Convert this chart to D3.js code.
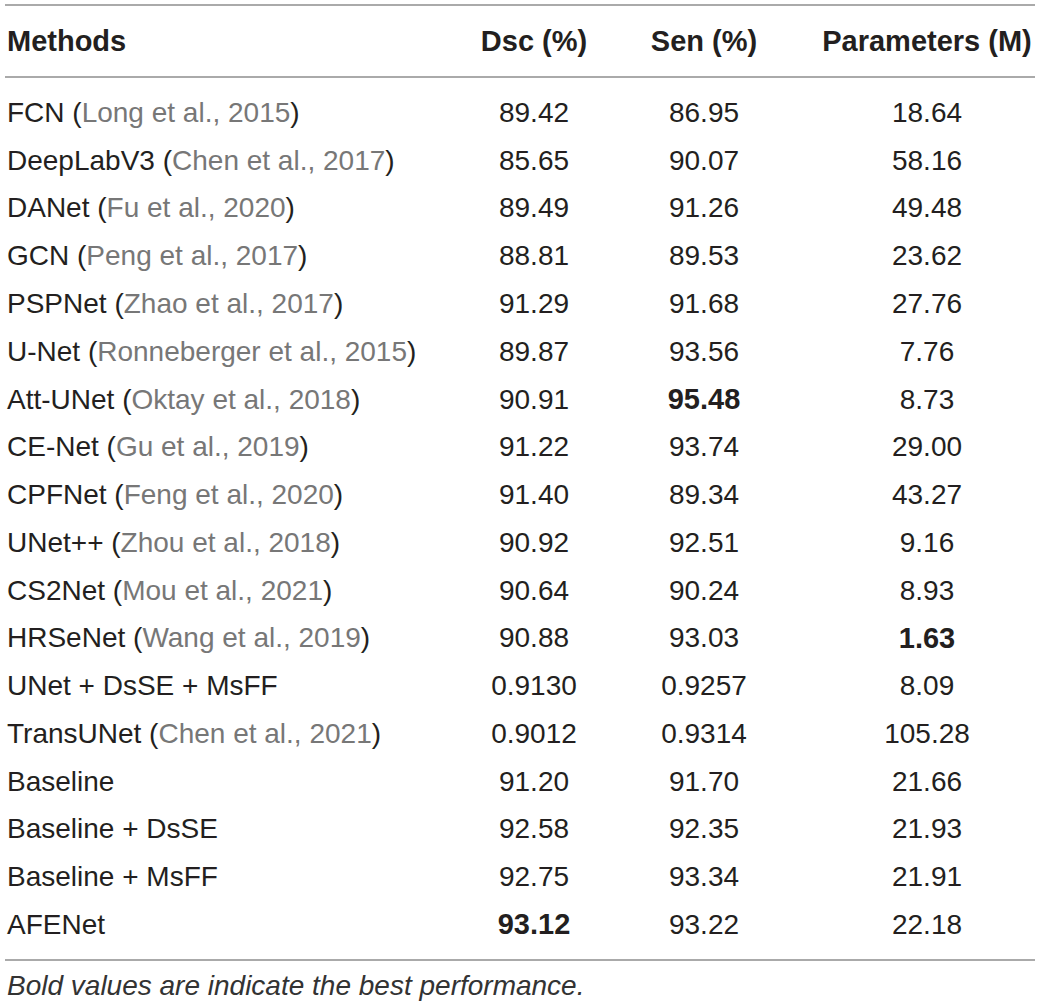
<!DOCTYPE html>
<html>
<head>
<meta charset="utf-8">
<script src="https://cdn.jsdelivr.net/npm/d3@7"></script>
<style>
  html, body { margin: 0; padding: 0; background: #fff; }
  svg { display: block; font-family: "Liberation Sans", Arial, Helvetica, sans-serif; }
</style>
</head>
<body>
<div id="table"></div>
<script>
// ---------------------------------------------------------------------------
// Table data
// ---------------------------------------------------------------------------
const columns = ['Methods', 'Dsc (%)', 'Sen (%)', 'Parameters (M)'];

const methods = [
  'FCN', 'DeepLabV3', 'DANet', 'GCN', 'PSPNet', 'U-Net', 'Att-UNet', 'CE-Net',
  'CPFNet', 'UNet++', 'CS2Net', 'HRSeNet', 'UNet + DsSE + MsFF', 'TransUNet',
  'Baseline', 'Baseline + DsSE', 'Baseline + MsFF', 'AFENet'
];

const citations = [
  'Long et al., 2015', 'Chen et al., 2017', 'Fu et al., 2020', 'Peng et al., 2017',
  'Zhao et al., 2017', 'Ronneberger et al., 2015', 'Oktay et al., 2018', 'Gu et al., 2019',
  'Feng et al., 2020', 'Zhou et al., 2018', 'Mou et al., 2021', 'Wang et al., 2019',
  '', 'Chen et al., 2021', '', '', '', ''
];

const dsc = [
  '89.42', '85.65', '89.49', '88.81', '91.29', '89.87', '90.91', '91.22', '91.40',
  '90.92', '90.64', '90.88', '0.9130', '0.9012', '91.20', '92.58', '92.75', '93.12'
];

const sen = [
  '86.95', '90.07', '91.26', '89.53', '91.68', '93.56', '95.48', '93.74', '89.34',
  '92.51', '90.24', '93.03', '0.9257', '0.9314', '91.70', '92.35', '93.34', '93.22'
];

const params = [
  '18.64', '58.16', '49.48', '23.62', '27.76', '7.76', '8.73', '29.00', '43.27',
  '9.16', '8.93', '1.63', '8.09', '105.28', '21.66', '21.93', '21.91', '22.18'
];

// best values, shown in bold: [method, column]
const boldCells = [
  ['AFENet', 'Dsc (%)'],
  ['Att-UNet', 'Sen (%)'],
  ['HRSeNet', 'Parameters (M)']
];

const footnote = 'Bold values are indicate the best performance.';

// ---------------------------------------------------------------------------
// Layout
// ---------------------------------------------------------------------------
const width = 1040, height = 1008;
const fontSize = 28;
const boldSize = 29;
const colorText = '#231f20';
const colorCite = '#777777';
const colorRule = '#aaaaaa';

const svg = d3.select('#table').append('svg')
  .attr('width', width)
  .attr('height', height)
  .attr('viewBox', `0 0 ${width} ${height}`);

// column anchors (left edge for the first column, centres for the others)
const x = d3.scaleOrdinal()
  .domain(columns)
  .range([7, 534, 704, 927]);

// rows
const y = d3.scaleBand()
  .domain(methods)
  .range([88, 947.8]);

const rowCenter = m => y(m) + y.bandwidth() / 2;

// horizontal rules
const rules = [5, 77, 960];
svg.append('g')
  .selectAll('line')
  .data(rules)
  .join('line')
    .attr('x1', 5)
    .attr('x2', 1035)
    .attr('y1', d => d)
    .attr('y2', d => d)
    .attr('stroke', colorRule)
    .attr('stroke-width', 2);

// header
svg.append('g')
  .selectAll('text')
  .data(columns)
  .join('text')
    .attr('x', d => x(d))
    .attr('y', 41)
    .attr('dy', '0.36em')
    .attr('text-anchor', (d, i) => i === 0 ? 'start' : 'middle')
    .attr('font-size', boldSize)
    .attr('font-weight', 'bold')
    .attr('fill', colorText)
    .text(d => d);

// method column with grey citations
const methodText = svg.append('g')
  .selectAll('text')
  .data(methods)
  .join('text')
    .attr('x', x(columns[0]))
    .attr('y', d => rowCenter(d))
    .attr('dy', '0.36em')
    .attr('font-size', fontSize)
    .attr('fill', colorText);

methodText.append('tspan').text(d => d);
methodText.each(function (d, i) {
  const c = citations[i];
  if (!c) return;
  const t = d3.select(this);
  t.append('tspan').text(' (');
  t.append('tspan').attr('fill', colorCite).text(c);
  t.append('tspan').text(')');
});

// numeric columns
const isBold = (m, col) => boldCells.some(([bm, bc]) => bm === m && bc === col);
const numeric = [[columns[1], dsc], [columns[2], sen], [columns[3], params]];

numeric.forEach(([col, values]) => {
  svg.append('g')
    .selectAll('text')
    .data(values.map((v, i) => ({ method: methods[i], value: v })))
    .join('text')
      .attr('x', x(col))
      .attr('y', d => rowCenter(d.method))
      .attr('dy', '0.36em')
      .attr('text-anchor', 'middle')
      .attr('font-size', d => isBold(d.method, col) ? boldSize : fontSize)
      .attr('font-weight', d => isBold(d.method, col) ? 'bold' : 'normal')
      .attr('fill', colorText)
      .text(d => d.value);
});

// footnote
svg.append('text')
  .attr('x', 7)
  .attr('y', 995)
  .attr('font-size', 28)
  .attr('font-style', 'italic')
  .attr('fill', '#333333')
  .text(footnote);
</script>
</body>
</html>
